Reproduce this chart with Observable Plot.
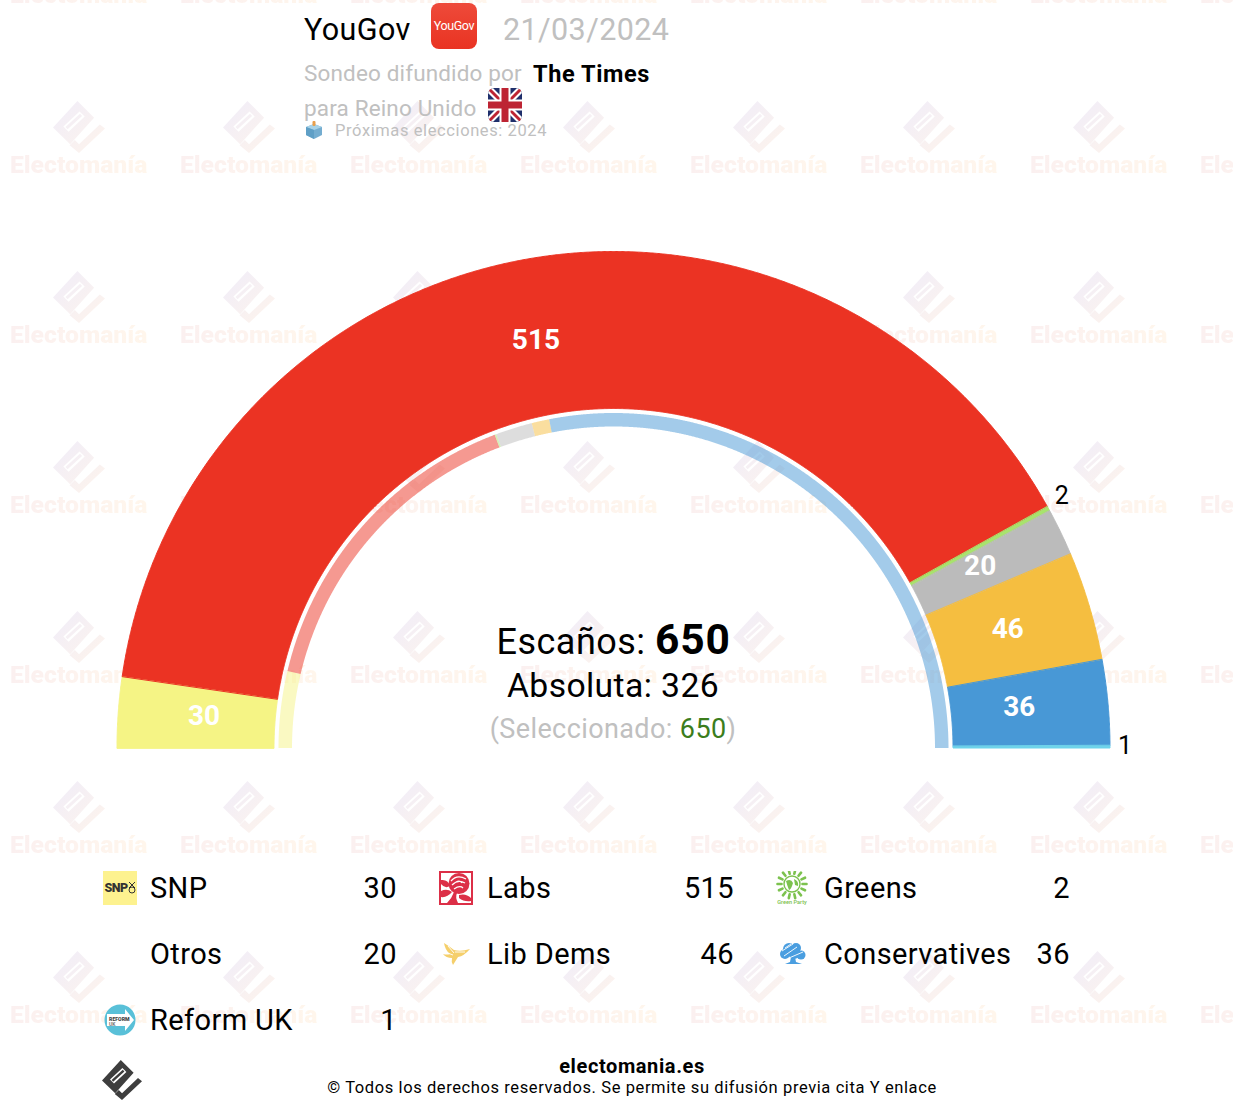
<!DOCTYPE html>
<html lang="es">
<head>
<meta charset="utf-8">
<title>YouGov 21/03/2024</title>
<script src="https://cdn.jsdelivr.net/npm/d3@7"></script>
<script src="https://cdn.jsdelivr.net/npm/@observablehq/plot@0.6"></script>
<style>
  html,body{margin:0;padding:0;background:#fff;width:1240px;height:1118px;overflow:hidden;font-family:Roboto,sans-serif;}
  #page{position:relative;width:1240px;height:1118px;overflow:hidden;}
  #chart,#txt{position:absolute;left:0;top:0;width:1240px;height:1118px;}
  #wm{position:absolute;left:0;top:0;width:1233px;height:1118px;overflow:hidden;}
  #chart svg{display:block;background:transparent;}
  .t{position:absolute;white-space:nowrap;line-height:1;letter-spacing:.4px;}
  .wt{position:absolute;white-space:nowrap;line-height:1;font-weight:900;font-size:24.7px;
      background:linear-gradient(90deg,#fbf0f0,#fff6ec);-webkit-background-clip:text;background-clip:text;color:transparent;}
  .ic{position:absolute;display:block;}
</style>
</head>
<body>
<div id="page"><div id="wm"></div><div id="chart"></div><div id="txt"></div></div>
<script>
const parties    = ["SNP","Labs","Greens","Otros","Lib Dems","Conservatives","Reform UK"];
const seats      = [30,515,2,20,46,36,1];
const prevSeats  = [48,202,1,23,11,365,0];
const colors     = ["#f5f485","#eb3323","#a8e36d","#bbbbbb","#f5be40","#4898d6","#6fd3ea"];
const totalSeats = 650;
const majority   = 326;
const selected   = 650;

const cx = 613.5, cy = 748;
const rOuter = 496.5, rInner = 339.5, ringOuter = 335, ringInner = 321.5;
const labelR = 411, outsideR = 512;
const labelNudgeX = {"SNP": 2, "Labs": -2, "Otros": -2, "Lib Dems": 2, "Conservatives": -2, "Greens": -1, "Reform UK": -1};
const labelNudgeY = {"Labs": 1, "Otros": 1, "Lib Dems": -1, "Conservatives": 1, "Greens": 3, "Reform UK": -2};

const pol = (s, r) => {
  const a = Math.PI * (1 - s / totalSeats);
  return [r * Math.cos(a), r * Math.sin(a)];
};
function band(values, r0, r1) {
  const out = []; let acc = 0;
  values.forEach((v, i) => {
    const n = Math.max(2, Math.ceil(v * 2) + 1);
    for (let k = 0; k < n; k++) {
      const s = acc + v * k / (n - 1);
      const [x1, y1] = pol(s, r1), [x2, y2] = pol(s, r0);
      out.push({party: parties[i], x1, y1, x2, y2});
    }
    acc += v;
  });
  return out;
}
const mid = values => { let acc = 0; return values.map(v => { const m = acc + v / 2; acc += v; return m; }); };
const mids = mid(seats);
const labels = parties.map((p, i) => {
  const big = seats[i] >= 10;
  const [x, y] = pol(mids[i], big ? labelR : outsideR);
  return {party: p, seats: seats[i], x: x + (labelNudgeX[p] || 0), y: y + (labelNudgeY[p] || 0), big};
});

const chart = Plot.plot({
  width: 1240, height: 1118,
  margin: 0,
  x: {domain: [-cx, 1240 - cx], axis: null},
  y: {domain: [cy - 1118, cy], axis: null},
  color: {domain: parties, range: colors},
  style: {background: "transparent", fontFamily: "Roboto, sans-serif"},
  marks: [
    Plot.area(band(seats, rInner, rOuter), {x1: "x1", y1: "y1", x2: "x2", y2: "y2", fill: "party", stroke: "party", strokeWidth: 1}),
    Plot.area(band(prevSeats, ringInner, ringOuter), {x1: "x1", y1: "y1", x2: "x2", y2: "y2", fill: "party", fillOpacity: 0.5}),
    Plot.text(labels.filter(d => d.big), {x: "x", y: "y", text: "seats", dy: -3, dx: -2, fill: "#fff", fontSize: 28, fontWeight: 700, letterSpacing: 0.8}),
    Plot.text(labels.filter(d => !d.big), {x: "x", y: "y", text: "seats", dy: -3, fill: "#000", fontSize: 25})
  ]
});
document.getElementById("chart").appendChild(chart);

/* ---------- watermark ---------- */
const logoSvg = (size, fill, id) => {
  const f = id ? `url(#${id})` : fill;
  const defs = id ? `<defs><linearGradient id="${id}" x1="0" y1="0" x2="1" y2="1"><stop offset="0" stop-color="#f0edf9"/><stop offset="1" stop-color="#fef4ec"/></linearGradient></defs>` : "";
  return `<svg width="${size}" height="${size}" viewBox="0 0 100 100" style="display:block">${defs}
  <path fill="${f}" fill-rule="evenodd" d="M47 0L79 32L33 83L0 51Z M20 49L51 20L61 30L30 59Z M24 50L52 24.5L56 29L28 54.5Z M90 45L100 53L50 100L32 85L42 75L50 83Z"/></svg>`;
};
const wm = document.getElementById("wm");
const wmX = d3.range(8).map(i => 10 + 170 * i);
const wmY = d3.range(7).map(i => -5 + 170 * i);
wmY.forEach((y, r) => wmX.forEach((x, c) => {
  const ic = document.createElement("div");
  ic.className = "ic"; ic.style.left = (x + 43) + "px"; ic.style.top = (y - 64) + "px";
  ic.innerHTML = logoSvg(52, null, `wg${r}_${c}`);
  wm.appendChild(ic);
  const t = document.createElement("div");
  t.className = "wt"; t.textContent = "Electomanía";
  t.style.left = x + "px"; t.style.top = (y - 12) + "px";
  wm.appendChild(t);
}));

/* ---------- text + icons ---------- */
const txt = document.getElementById("txt");
function T(html, x, yc, size, opts = {}) {
  const d = document.createElement("div");
  d.className = "t"; d.innerHTML = html;
  d.style.fontSize = size + "px";
  d.style.top = (yc - size / 2) + "px";
  d.style.color = opts.color || "#000";
  if (opts.weight) d.style.fontWeight = opts.weight;
  if (opts.ls != null) d.style.letterSpacing = opts.ls + "px";
  if (opts.align === "right") { d.style.right = (1240 - x) + "px"; }
  else if (opts.align === "center") { d.style.left = x + "px"; d.style.transform = "translateX(-50%)"; }
  else d.style.left = x + "px";
  txt.appendChild(d);
}
function I(svg, x, y, size) {
  const d = document.createElement("div");
  d.className = "ic"; d.style.left = x + "px"; d.style.top = y + "px"; d.style.width = size + "px"; d.style.height = size + "px";
  d.innerHTML = svg.replace("<svg ", `<svg width="${size}" height="${size}" `);
  txt.appendChild(d);
}
const gray = "#c0c0c0";
T("YouGov", 304, 30, 30.5);
I(`<svg viewBox="0 0 46 46"><defs><linearGradient id="yg" x1="0" y1="0" x2="0" y2="1"><stop offset="0" stop-color="#ee4a3a"/><stop offset="1" stop-color="#e93322"/></linearGradient></defs><rect width="46" height="46" rx="8" fill="url(#yg)"/><text x="23" y="27" text-anchor="middle" font-family="Roboto" font-size="12.5" font-weight="400" fill="#fff" letter-spacing="-.4">YouGov</text></svg>`, 431, 3, 46);
T("21/03/2024", 503, 30, 30.5, {color: gray});
T("Sondeo difundido por", 304, 73, 22.5, {color: gray, ls: .15});
T("The Times", 533, 75, 23.5, {weight: 700, ls: .6});
T("para Reino Unido", 304, 108, 22.5, {color: gray, ls: .15});
I(`<svg viewBox="0 0 34 34"><defs><clipPath id="fl"><rect width="34" height="34" rx="6"/></clipPath></defs><g clip-path="url(#fl)"><rect width="34" height="34" fill="#1f2f6b"/><path d="M0 0L34 34M34 0L0 34" stroke="#fff" stroke-width="7"/><path d="M0 0L34 34M34 0L0 34" stroke="#bd2433" stroke-width="3"/><path d="M17 0V34M0 17H34" stroke="#fff" stroke-width="11"/><path d="M17 0V34M0 17H34" stroke="#bd2433" stroke-width="7"/></g></svg>`, 488, 88, 34);
I(`<svg viewBox="0 0 18 18"><path d="M1 6L9 3L17 6V14L9 18L1 14Z" fill="#74add0"/><path d="M1 6L9 9L17 6L9 3Z" fill="#a8d3e8"/><path d="M9 9V18L1 14V6Z" fill="#5f9fc6"/><rect x="7.5" y="0" width="3" height="5" rx="1" fill="#e9a04d"/></svg>`, 305, 121, 18);
T("Próximas elecciones: 2024", 335, 131, 16.5, {color: gray, ls: .6});

T(`Escaños: <b style="font-size:42.5px;letter-spacing:.8px">${totalSeats}</b>`, 613.5, 637, 36, {align: "center", ls: .5});
T(`Absoluta: ${majority}`, 613, 686, 33.7, {align: "center"});
T(`(Seleccionado: <span style="color:#3b7d1c">${selected}</span>)`, 613, 729, 27, {align: "center", color: gray});

const iconSvg = {
  "SNP": `<svg viewBox="0 0 34 34"><rect width="34" height="34" fill="#fdf28f"/><text x="1.5" y="21" font-family="Roboto" font-weight="900" font-size="12.5" fill="#333" letter-spacing="-.5">SNP</text><circle cx="29" cy="19" r="3" fill="none" stroke="#333" stroke-width="1"/><path d="M26 11L32 17M32 11L26 17" stroke="#333" stroke-width="1"/></svg>`,
  "Labs": `<svg viewBox="0 0 34 34"><rect width="34" height="34" fill="#dc2f47"/><rect x="2" y="2" width="30" height="30" fill="#fff"/><circle cx="20" cy="12.5" r="10.5" fill="#dc2f47"/><path d="M12 10Q18 3 27 8M13 14Q19 8 26 12M15 18Q21 14 24 17M17 11Q21 9 23 12" stroke="#fff" stroke-width="1.3" fill="none"/><path d="M15 21Q13 27 8 32L19 32Q16 26 18 22Z" fill="#dc2f47"/><path d="M2 9Q9 8 11 15Q6 18 2 13Z M2 20Q8 17 13 21Q8 27 2 26Z M20 24Q27 22 32 27V30Q25 31 20 27Z" fill="#dc2f47"/></svg>`,
  "Greens": `<svg viewBox="0 0 34 34"><g stroke="#7cc24e" stroke-width="2.6" stroke-linecap="round">${d3.range(14).map(i => { const a = i / 14 * 2 * Math.PI; return `<path d="M${16 + 10.5 * Math.cos(a)} ${13 + 10.5 * Math.sin(a)}L${16 + 14.5 * Math.cos(a)} ${13 + 14.5 * Math.sin(a)}"/>`; }).join("")}</g><circle cx="16" cy="13" r="8" fill="#fff" stroke="#7cc24e" stroke-width="1.4"/><path d="M10 10Q15 7 17 12Q15 19 13 19Q11 14 10 10ZM18 8Q23 10 22 15L19 14Z" fill="#7cc24e"/><text x="16" y="33" text-anchor="middle" font-family="Roboto" font-size="5.6" font-weight="500" fill="#7cc24e">Green Party</text></svg>`,
  "Lib Dems": `<svg viewBox="0 0 34 34"><path d="M5 6Q10 9 15 13Q22 15 31 12Q25 19 19 20L14 28Q12 25 13 21Q7 21 4 17Q8 18 11 17Q6 13 5 6Z" fill="#f5cf6b"/><path d="M9 9L15 16M6 15L14 18M16 15L26 15" stroke="#fff" stroke-width=".9"/></svg>`,
  "Conservatives": `<svg viewBox="0 0 34 34"><g fill="#4a9ee0"><circle cx="13" cy="12" r="6"/><circle cx="20" cy="11" r="5"/><circle cx="9" cy="17" r="5"/><circle cx="18" cy="16" r="6"/><circle cx="25" cy="18" r="4.5"/><path d="M15 20L19 20L20 25L26 27L9 27L14 25Z"/></g><path d="M6 14L17 7M8 19L21 10M13 21L27 15M9 11L15 7" stroke="#fff" stroke-width=".9"/></svg>`,
  "Reform UK": `<svg viewBox="0 0 34 34"><circle cx="17" cy="17" r="15.5" fill="#59c0d8"/><path d="M4 11H22V6L31 17L22 28V23H4Z" fill="#fff"/><text x="6" y="17.5" font-family="Roboto" font-weight="900" font-size="5.2" fill="#444">REFORM</text><text x="6" y="22.5" font-family="Roboto" font-weight="700" font-size="5" fill="#777">UK</text></svg>`
};
const legendColX = [[103, 150, 397], [439, 487, 734], [776, 824, 1070]];
const legendRowY = [888, 954, 1020];
parties.forEach((name, k) => {
  const col = k % 3, row = Math.floor(k / 3);
  const [ix, nx, vx] = legendColX[col], y = legendRowY[row];
  if (iconSvg[name]) I(iconSvg[name], ix, y - 17, 34);
  T(name, nx, y, 29);
  T(String(seats[k]), vx, y, 29, {align: "right"});
});

T("electomania.es", 632, 1066, 20, {align: "center", weight: 700, ls: .6});
T("© Todos los derechos reservados. Se permite su difusión previa cita Y enlace", 632, 1088, 16.5, {align: "center", ls: .6});
const footerLogo = document.createElement("div");
footerLogo.className = "ic"; footerLogo.style.left = "102px"; footerLogo.style.top = "1060px";
footerLogo.innerHTML = logoSvg(40, "#3e3e3e");
txt.appendChild(footerLogo);
</script>
</body>
</html>
